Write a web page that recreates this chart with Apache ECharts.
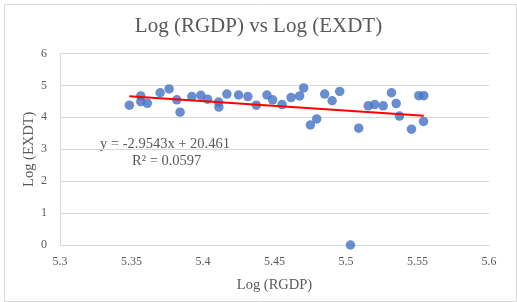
<!DOCTYPE html>
<html>
<head>
    <meta charset="utf-8">
    <title>Log (RGDP) vs Log (EXDT)</title>
    <script src="https://cdn.jsdelivr.net/npm/echarts@6/dist/echarts.min.js"></script>
    <style>
        html, body { margin: 0; padding: 0; background: #fff; }
        #main { width: 517px; height: 302px; }
    </style>
</head>
<body>
<div id="main"></div>
<script type="text/javascript">
    // data
    const logRGDP = [5.3485, 5.3565, 5.3565, 5.3611, 5.3700, 5.3763, 5.3817, 5.3840, 5.3922, 5.3985,
        5.4032, 5.4109, 5.4111, 5.4167, 5.4249, 5.4314, 5.4373, 5.4447, 5.4487, 5.4553,
        5.4616, 5.4676, 5.4704, 5.4751, 5.4795, 5.4851, 5.4903, 5.4956, 5.5031, 5.5089,
        5.5155, 5.5201, 5.5260, 5.5318, 5.5351, 5.5374, 5.5458, 5.5509, 5.5544, 5.5542];
    const logEXDT = [4.38, 4.67, 4.49, 4.44, 4.77, 4.89, 4.55, 4.16, 4.65, 4.69,
        4.57, 4.48, 4.32, 4.73, 4.70, 4.65, 4.38, 4.70, 4.55, 4.40,
        4.62, 4.67, 4.92, 3.76, 3.95, 4.73, 4.52, 4.81, 0.00, 3.66,
        4.36, 4.40, 4.36, 4.77, 4.43, 4.04, 3.63, 4.68, 4.68, 3.87];

    // linear trendline as shown on the chart
    const trendSlope = -2.9543;
    const trendIntercept = 20.461;
    const trendLabel = ['y = -2.9543x + 20.461', 'R² = 0.0597'];

    const points = logRGDP.map((x, i) => [x, logEXDT[i]]);
    const xMin = Math.min(...logRGDP);
    const xMax = Math.max(...logRGDP);
    const trend = [xMin, xMax].map(x => [x, trendSlope * x + trendIntercept]);

    const font = '"Liberation Serif", "Times New Roman", serif';
    const gray = '#595959';

    const myChart = echarts.init(document.getElementById('main'));

    const option = {
        backgroundColor: '#fff',
        animation: false,
        title: {
            text: 'Log (RGDP) vs Log (EXDT)',
            left: 'center',
            top: 11,
            textStyle: { fontFamily: font, fontSize: 21, fontWeight: 'normal', color: gray }
        },
        grid: { left: 60, right: 28, top: 53.5, bottom: 57 },
        xAxis: {
            type: 'value',
            min: 5.3,
            max: 5.6,
            interval: 0.05,
            name: 'Log (RGDP)',
            nameLocation: 'middle',
            nameGap: 33,
            nameTextStyle: { fontFamily: font, fontSize: 14.5, color: gray },
            axisLine: { show: true, lineStyle: { color: '#d9d9d9' } },
            axisTick: { show: false },
            splitLine: { show: false },
            axisLabel: {
                fontFamily: font, fontSize: 12, color: gray, margin: 11,
                formatter: v => String(+v.toFixed(2))
            }
        },
        yAxis: {
            type: 'value',
            min: 0,
            max: 6,
            interval: 1,
            name: 'Log (EXDT)',
            nameLocation: 'middle',
            nameGap: 23,
            nameMoveOverlap: false,
            nameTextStyle: { fontFamily: font, fontSize: 14.5, color: gray },
            axisLine: { show: true, lineStyle: { color: '#d9d9d9' } },
            axisTick: { show: false },
            splitLine: { show: true, lineStyle: { color: '#d9d9d9' } },
            axisLabel: { fontFamily: font, fontSize: 12, color: gray, margin: 13 }
        },
        graphic: [
            {
                type: 'rect',
                left: 2, top: 2,
                shape: { width: 512, height: 297 },
                style: { fill: 'none', stroke: '#d9d9d9', lineWidth: 1 },
                silent: true
            },
            {
                type: 'text',
                left: 100, top: 137,
                style: { text: trendLabel[0], fontFamily: font, fontSize: 14.5, fill: gray }
            },
            {
                type: 'text',
                left: 132, top: 154,
                style: { text: trendLabel[1], fontFamily: font, fontSize: 14.5, fill: gray }
            }
        ],
        series: [
            {
                type: 'scatter',
                data: points,
                symbolSize: 9.5,
                itemStyle: { color: '#4472C4' },
                z: 3
            },
            {
                type: 'line',
                data: trend,
                symbol: 'none',
                lineStyle: { color: '#ff0000', width: 2 },
                z: 4
            }
        ]
    };

    myChart.setOption(option);
</script>
</body>
</html>
